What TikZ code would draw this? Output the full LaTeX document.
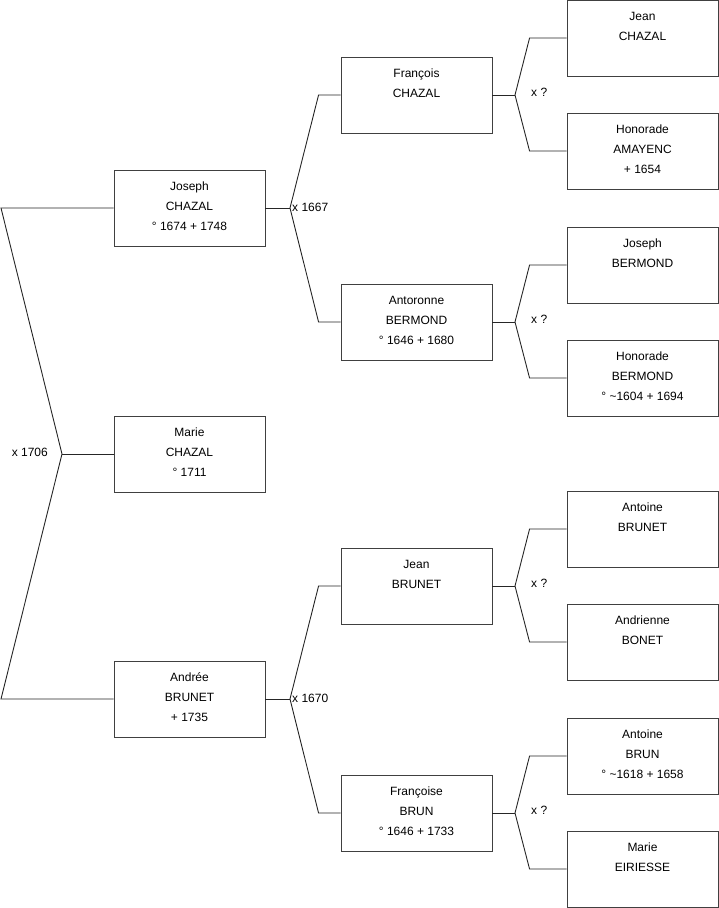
\documentclass[tikz,border=0pt]{standalone}
\usepackage{fontspec}
\setmainfont{Liberation Sans}
\usetikzlibrary{calc}
\tikzset{
  person/.style={draw=black!75, line width=0.9pt, minimum width=151pt, minimum height=76pt, inner sep=0pt},
  ptext/.style={anchor=north, inner sep=0pt, align=center, font=\fontsize{12}{20}\selectfont},
  link/.style={draw=black!85, line width=0.9pt},
  mlabel/.style={inner sep=0pt, font=\fontsize{12}{14}\selectfont}
}
\newcommand{\person}[4]{%
  \node[person] (#1) at (#2,#3) {};
  \node[ptext] (#1-t) at ($(#1.north)+(0,8.5)$) {\rule{0pt}{12pt}#4};
}
\begin{document}
\begin{tikzpicture}[x=1pt,y=-1pt]
\useasboundingbox (0,0) rectangle (719,908);
% column 1
\person{joseph}{189.5}{208}{Joseph\\CHAZAL\\° 1674 + 1748}
\person{marie}{189.5}{454}{Marie\\CHAZAL\\° 1711}
\person{andree}{189.5}{699}{Andrée\\BRUNET\\+ 1735}
% column 2
\person{francois}{416.5}{95}{François\\CHAZAL}
\person{antoronne}{416.5}{322}{Antoronne\\BERMOND\\° 1646 + 1680}
\person{jeanb}{416.5}{586}{Jean\\BRUNET}
\person{francoise}{416.5}{813}{Françoise\\BRUN\\° 1646 + 1733}
% column 3
\person{jeanc}{642.5}{38}{Jean\\CHAZAL}
\person{honam}{642.5}{151}{Honorade\\AMAYENC\\+ 1654}
\person{josephb}{642.5}{265}{Joseph\\BERMOND}
\person{honbe}{642.5}{378}{Honorade\\BERMOND\\° \textasciitilde 1604 + 1694}
\person{antbt}{642.5}{529}{Antoine\\BRUNET}
\person{andbo}{642.5}{642}{Andrienne\\BONET}
\person{antbn}{642.5}{756}{Antoine\\BRUN\\° \textasciitilde 1618 + 1658}
\person{marei}{642.5}{869}{Marie\\EIRIESSE}

% left bracket (Marie)
\coordinate (ltop) at (1,208);
\coordinate (lmid) at (62,454);
\coordinate (lbot) at (1,699);
\draw[link] (joseph.west) -- (ltop) -- (lmid) -- (lbot) -- (andree.west);
\draw[link] (lmid) -- (marie.west);
\node[mlabel, anchor=east] (m1706) at (48,452) {x 1706};

% brackets column 1 -> 2
\coordinate (j1) at (290,208);
\coordinate (j2) at (290,699);
\draw[link] (joseph.east) -- (j1);
\draw[link] (j1) -- ($(francois.west)+(-22,0)$) -- (francois.west);
\draw[link] (j1) -- ($(antoronne.west)+(-22,0)$) -- (antoronne.west);
\node[mlabel, anchor=west] (m1667) at (292,207) {x 1667};
\draw[link] (andree.east) -- (j2);
\draw[link] (j2) -- ($(jeanb.west)+(-22,0)$) -- (jeanb.west);
\draw[link] (j2) -- ($(francoise.west)+(-22,0)$) -- (francoise.west);
\node[mlabel, anchor=west] (m1670) at (292,698) {x 1670};

% brackets column 2 -> 3
\coordinate (k1) at (515,95);
\coordinate (k2) at (515,322);
\coordinate (k3) at (515,586);
\coordinate (k4) at (515,813);
\draw[link] (francois.east) -- (k1);
\draw[link] (k1) -- ($(jeanc.west)+(-37,0)$) -- (jeanc.west);
\draw[link] (k1) -- ($(honam.west)+(-37,0)$) -- (honam.west);
\node[mlabel, anchor=west] (mq1) at (531,92) {x ?};
\draw[link] (antoronne.east) -- (k2);
\draw[link] (k2) -- ($(josephb.west)+(-37,0)$) -- (josephb.west);
\draw[link] (k2) -- ($(honbe.west)+(-37,0)$) -- (honbe.west);
\node[mlabel, anchor=west] (mq2) at (531,319) {x ?};
\draw[link] (jeanb.east) -- (k3);
\draw[link] (k3) -- ($(antbt.west)+(-37,0)$) -- (antbt.west);
\draw[link] (k3) -- ($(andbo.west)+(-37,0)$) -- (andbo.west);
\node[mlabel, anchor=west] (mq3) at (531,583) {x ?};
\draw[link] (francoise.east) -- (k4);
\draw[link] (k4) -- ($(antbn.west)+(-37,0)$) -- (antbn.west);
\draw[link] (k4) -- ($(marei.west)+(-37,0)$) -- (marei.west);
\node[mlabel, anchor=west] (mq4) at (531,810) {x ?};
\end{tikzpicture}
\end{document}
